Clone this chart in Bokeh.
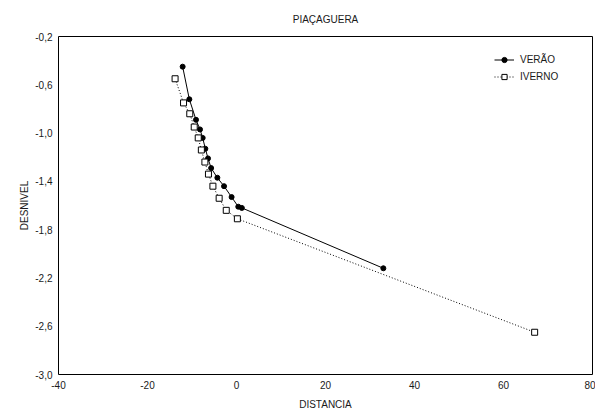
from bokeh.plotting import figure
from bokeh.models import Range1d, FixedTicker, CustomJSTickFormatter, Legend, LegendItem
from bokeh.embed import file_html
from bokeh.resources import INLINE

# Data
verao_x = [-12.1, -10.6, -9.1, -8.2, -7.6, -7.0, -6.4, -5.7, -4.3, -2.8, -1.1, 0.4, 1.2, 33.0]
verao_y = [-0.45, -0.72, -0.89, -0.97, -1.04, -1.13, -1.21, -1.29, -1.37, -1.44, -1.53, -1.61, -1.62, -2.12]
inverno_x = [-13.8, -11.9, -10.5, -9.5, -8.6, -7.9, -7.1, -6.3, -5.3, -3.9, -2.3, 0.2, 67.0]
inverno_y = [-0.55, -0.75, -0.84, -0.95, -1.04, -1.14, -1.24, -1.34, -1.44, -1.54, -1.64, -1.71, -2.65]
x_ticks = [-40, -20, 0, 20, 40, 60, 80]
y_ticks = [-0.2, -0.6, -1.0, -1.4, -1.8, -2.2, -2.6, -3.0]

FONT = "Liberation Sans"
TXT = "#1a1a1a"

p = figure(width=595, height=412, output_backend="svg", toolbar_location=None,
           x_range=Range1d(-40, 80), y_range=Range1d(-3.0, -0.2),
           title="PIAÇAGUERA")
p.min_border_left = 58
p.min_border_right = 3
p.min_border_top = 35
p.min_border_bottom = 38

p.title.align = "center"
p.title.text_font = FONT
p.title.text_font_size = "10px"
p.title.text_font_style = "normal"
p.title.text_color = TXT
p.title.standoff = 23

p.outline_line_color = "black"
p.outline_line_width = 1
p.grid.visible = False

for ax in (p.xaxis[0], p.yaxis[0]):
    ax.axis_line_color = None
    ax.major_tick_line_color = None
    ax.minor_tick_line_color = None
    ax.major_tick_out = 0
    ax.major_tick_in = 0
    ax.minor_tick_out = 0
    ax.minor_tick_in = 0
    ax.major_label_text_font = FONT
    ax.major_label_text_font_size = "10px"
    ax.major_label_text_color = TXT
    ax.axis_label_text_font = FONT
    ax.axis_label_text_font_size = "10px"
    ax.axis_label_text_font_style = "normal"
    ax.axis_label_text_color = TXT

p.xaxis.ticker = FixedTicker(ticks=x_ticks)
p.yaxis.ticker = FixedTicker(ticks=y_ticks)
p.xaxis.formatter = CustomJSTickFormatter(code="return tick.toFixed(0);")
p.yaxis.formatter = CustomJSTickFormatter(code="return tick.toFixed(1).replace('.', ',');")
p.xaxis.axis_label = "DISTANCIA"
p.yaxis.axis_label = "DESNIVEL"
p.xaxis.major_label_standoff = 6
p.yaxis.major_label_standoff = 6
p.xaxis.axis_label_standoff = 7
p.yaxis.axis_label_standoff = 2

l1 = p.line(verao_x, verao_y, line_color="black", line_width=1)
c1 = p.scatter(verao_x, verao_y, marker="circle", size=5, fill_color="black", line_color="black")
l2 = p.line(inverno_x, inverno_y, line_color="black", line_width=1, line_dash="1 2")
c2 = p.scatter(inverno_x, inverno_y, marker="square", size=6, fill_color="white", line_color="black")

legend = Legend(items=[LegendItem(label="VERÃO", renderers=[l1, c1]),
                       LegendItem(label="IVERNO", renderers=[l2, c2])],
                location=(436, 291))
legend.border_line_color = None
legend.background_fill_alpha = 0
legend.padding = 0
legend.margin = 0
legend.spacing = 4
legend.glyph_width = 20
legend.glyph_height = 13
legend.label_height = 13
legend.label_text_font = FONT
legend.label_text_font_size = "10px"
legend.label_text_color = TXT
legend.label_standoff = 6
p.add_layout(legend)

open("out.html", "w").write(file_html(p, INLINE))
